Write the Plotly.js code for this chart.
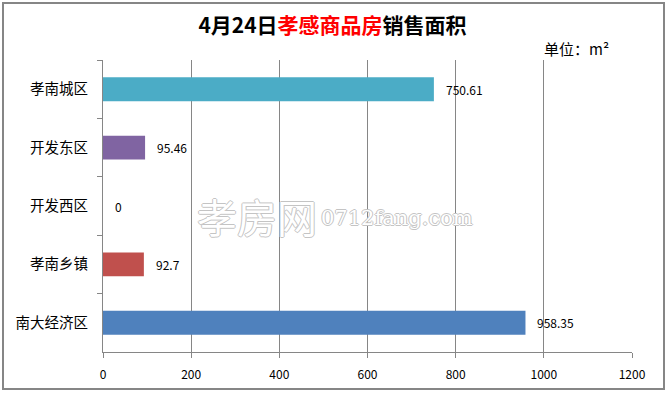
<!DOCTYPE html>
<html><head><meta charset="utf-8">
<script src="https://cdn.plot.ly/plotly-3.0.1.min.js"></script>
<style>
html,body{margin:0;padding:0;background:#fff;}
#wrap{position:relative;width:669px;height:395px;}
#chart{position:absolute;left:0;top:0;width:669px;height:395px;}
#frame{position:absolute;left:2px;top:2px;width:659px;height:384px;border:2px solid #868686;pointer-events:none;}
</style>
</head><body>
<div id="wrap"><div id="chart"></div><div id="frame"></div></div>
<script>
const categories = ["孝南城区","开发东区","开发西区","孝南乡镇","南大经济区"];
const values = [750.61, 95.46, 0, 92.7, 958.35];
const labels = ["750.61","95.46","0","92.7","958.35"];
const colors = ["#4BACC6","#8064A2","#C0504D","#C0504D","#4F81BD"];
const xTicks = [0,200,400,600,800,1000,1200];

const font = "'Noto Sans CJK SC', 'Noto Sans', sans-serif";

const trace = {
  type: "bar",
  orientation: "h",
  y: categories,
  x: values,
  marker: {color: colors},
  width: 0.41,
  hoverinfo: "none"
};

const annotations = categories.map((c, i) => ({
  x: values[i], y: c, xref: "x", yref: "y",
  text: labels[i], showarrow: false, xanchor: "left", xshift: 10,
  font: {family: font, size: 12, color: "#000"}
}));

annotations.push({
  xref: "paper", yref: "paper", x: 1.0, y: 1.0, xanchor: "right", yanchor: "bottom",
  xshift: -21, yshift: -1,
  text: "单位：m²", showarrow: false,
  font: {family: font, size: 15, color: "#000"}
});

const wm = "-1px 0 0 #c4c4c4, 1px 0 0 #c4c4c4, 0 -1px 0 #c4c4c4, 0 1px 0 #c4c4c4";
annotations.push({
  xref: "paper", yref: "paper", x: (195-103)/529, y: (352-216)/292, xanchor: "left", yanchor: "middle",
  text: "孝房网", showarrow: false,
  font: {family: font, size: 40, color: "#ffffff", shadow: wm}
});
annotations.push({
  xref: "paper", yref: "paper", x: (319-103)/529, y: (352-218)/292, xanchor: "left", yanchor: "middle",
  text: "0712fang.com", showarrow: false,
  font: {family: "'DejaVu Serif', serif", size: 21, color: "#ffffff", shadow: wm}
});

const layout = {
  width: 669, height: 395,
  margin: {l: 103, r: 37, t: 60, b: 43, pad: 0},
  paper_bgcolor: "#fff", plot_bgcolor: "#fff",
  showlegend: false,
  title: {
    text: "<b>4月24日<span style='color:#FF0000'>孝感商品房</span>销售面积</b>",
    x: 0.497, xanchor: "center", y: 0.935, yanchor: "middle",
    font: {family: font, size: 21, color: "#000"}
  },
  xaxis: {
    range: [0, 1200], tickvals: xTicks, ticktext: xTicks.map(String),
    showgrid: true, gridcolor: "#868686", gridwidth: 1,
    showline: true, linecolor: "#868686", linewidth: 1,
    ticks: "outside", ticklen: 5, tickcolor: "#868686",
    zeroline: false, fixedrange: true,
    tickfont: {family: font, size: 12, color: "#000"},
    ticklabelstandoff: 7
  },
  yaxis: {
    type: "category", autorange: "reversed",
    showline: true, linecolor: "#868686", linewidth: 1,
    ticks: "outside", ticklen: 5, tickcolor: "#868686", tickson: "boundaries",
    showgrid: false, zeroline: false, fixedrange: true,
    tickfont: {family: font, size: 14.5, color: "#000"},
    ticklabelstandoff: 11
  },
  annotations: annotations
};

Plotly.newPlot("chart", [trace], layout, {displayModeBar: false, staticPlot: true});
</script>
</body></html>
